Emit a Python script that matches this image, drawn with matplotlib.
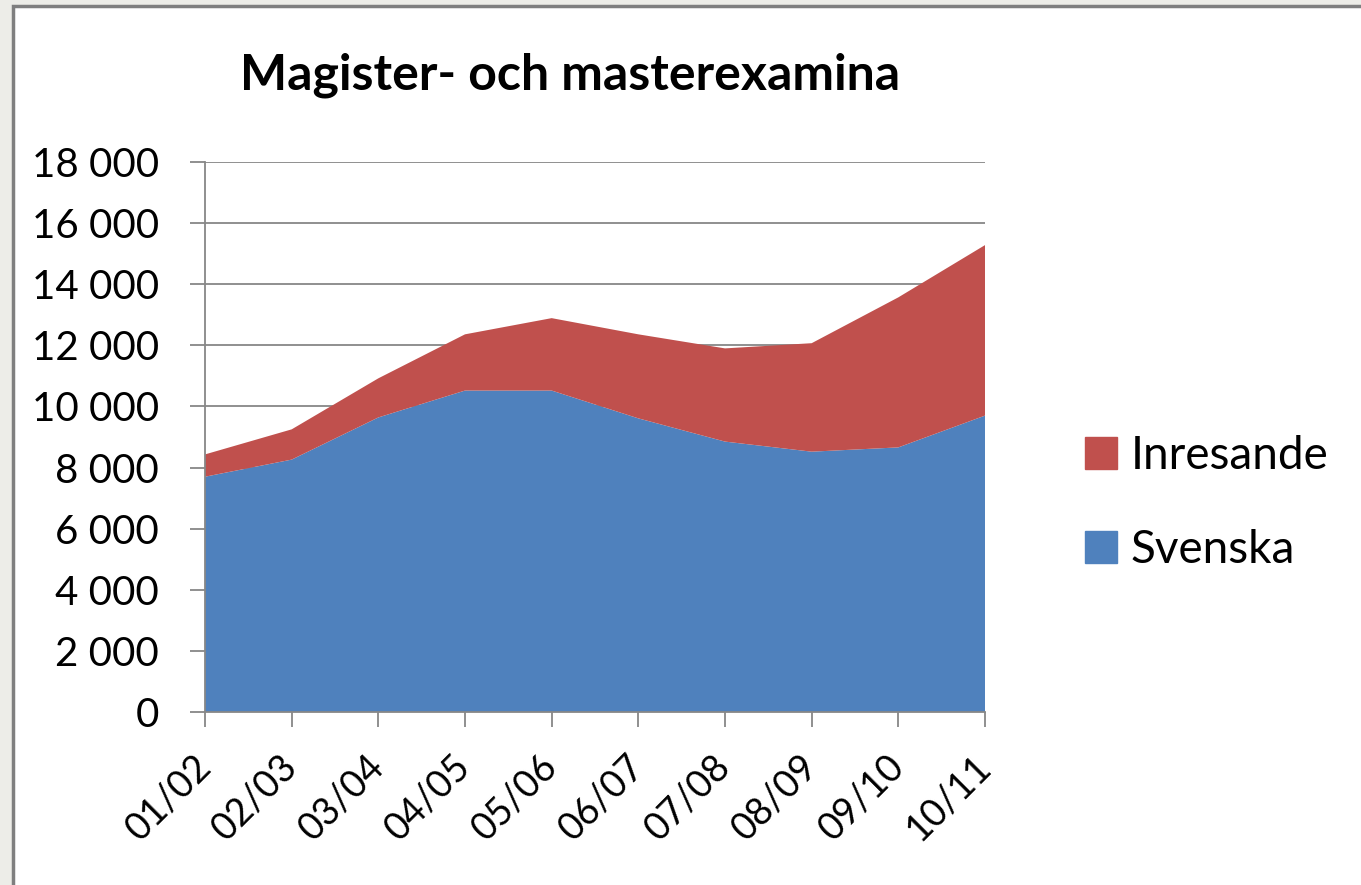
import numpy as np
import matplotlib
matplotlib.use("Agg")
import matplotlib.pyplot as plt
import matplotlib.ticker as mticker
from matplotlib.patches import Rectangle, Patch

plt.rcParams["font.family"] = ["Lato", "DejaVu Sans"]

# data
years = ["01/02", "02/03", "03/04", "04/05", "05/06",
         "06/07", "07/08", "08/09", "09/10", "10/11"]
svenska = [7700, 8260, 9640, 10520, 10520, 9610, 8850, 8520, 8660, 9700]
inresande = [730, 990, 1280, 1840, 2370, 2750, 3050, 3550, 4910, 5580]

BLUE = "#4F81BD"
RED = "#C0504D"
GRID = "#878787"

W, H = 1361, 885
fig = plt.figure(figsize=(W / 100, H / 100), dpi=100)
fig.patch.set_facecolor("#EDEDE8")

# white slide panel with a grey frame on top/left
fig.patches.append(Rectangle((13 / W, -0.05), 1.1, 1.05 - 6 / H, transform=fig.transFigure,
                             facecolor="white", edgecolor="#7F7F7F", linewidth=2.5,
                             zorder=-5))

ax = fig.add_axes([205 / W, 1 - 712 / H, 780 / W, 550 / H])
ax.set_facecolor("none")

x = np.arange(len(years))
ax.stackplot(x, svenska, inresande, colors=[BLUE, RED], linewidth=0, zorder=2)

ax.set_xlim(0, len(years) - 1)
ax.set_ylim(0, 18000)
ax.set_yticks(range(0, 18001, 2000))
ax.yaxis.set_major_formatter(mticker.FuncFormatter(lambda v, p: f"{int(v):,}".replace(",", " ")))
ax.set_xticks(x)
ax.set_xticklabels(years, rotation=45, ha="right", va="center", rotation_mode="anchor")

ax.grid(True, axis="y", color=GRID, linewidth=1.3, zorder=1)
ax.set_axisbelow(True)
for s in ["top", "right"]:
    ax.spines[s].set_visible(False)
for s in ["left", "bottom"]:
    ax.spines[s].set_color(GRID)
    ax.spines[s].set_linewidth(1.3)
    ax.spines[s].set_zorder(3)

ax.tick_params(axis="y", length=11, width=1.3, color=GRID, pad=22, labelsize=29)
ax.tick_params(axis="x", length=11, width=1.3, color=GRID, pad=24, labelsize=27)

fig.text(570 / W, 1 - 90 / H, "Magister- och masterexamina", ha="center", va="baseline",
         fontsize=36, fontweight="bold")

handles = [Patch(facecolor=RED, edgecolor=RED), Patch(facecolor=BLUE, edgecolor=BLUE)]
fig.legend(handles, ["Inresande", "Svenska"], loc="center left",
           bbox_to_anchor=(1085 / W, 1 - 503 / H), frameon=False, fontsize=33,
           borderpad=0, borderaxespad=0,
           handlelength=0.7, handleheight=0.7, handletextpad=0.3, labelspacing=1.15)

fig.savefig("out.png", dpi=100)
